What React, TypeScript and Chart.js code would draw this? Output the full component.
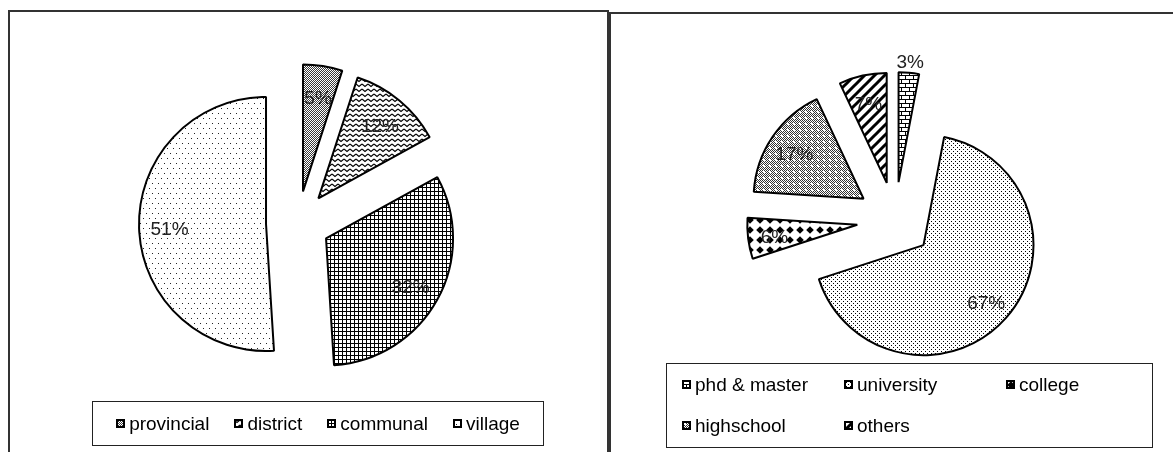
import React, { useEffect, useRef } from 'react';
import { Chart, registerables } from 'chart.js';

Chart.register(...registerables);

const FONT = '"Liberation Sans", Arial, Helvetica, sans-serif';

// Respondents by administrative level (%)
const levelLabels = ['provincial', 'district', 'communal', 'village'];
const levelShares = [5, 12, 32, 51];
const levelFills = ['stipple', 'wave', 'grid', 'sparseDots'];

// Respondents by education (%)
const eduLabels = ['phd & master', 'university', 'college', 'highschool', 'others'];
const eduShares = [3, 67, 6, 17, 7];
const eduFills = ['brick', 'fineDots', 'diamond', 'dottedDark', 'stripes'];

// Small black-and-white tiles used as hatch fills
function makeTile(kind: string): HTMLCanvasElement {
  const c = document.createElement('canvas');
  let w = 8;
  let h = 8;
  switch (kind) {
    case 'stipple': w = 2; h = 2; break;
    case 'wave': w = 6; h = 5; break;
    case 'grid': w = 4; h = 4; break;
    case 'sparseDots': w = 6; h = 10; break;
    case 'brick': w = 8; h = 8; break;
    case 'fineDots': w = 4; h = 4; break;
    case 'diamond': w = 10; h = 10; break;
    case 'dottedDark': w = 6; h = 6; break;
    case 'stripes': w = 10; h = 10; break;
  }
  c.width = w;
  c.height = h;
  const g = c.getContext('2d') as CanvasRenderingContext2D;
  g.fillStyle = '#fff';
  g.fillRect(0, 0, w, h);
  g.fillStyle = '#000';
  g.strokeStyle = '#000';
  const dot = (x: number, y: number) => g.fillRect(x, y, 1, 1);
  switch (kind) {
    case 'stipple':
      g.fillStyle = '#3a3a3a';
      dot(0, 0);
      dot(1, 1);
      break;
    case 'wave':
      g.lineWidth = 1.1;
      g.beginPath();
      g.moveTo(0, 1);
      g.lineTo(3, 3.5);
      g.lineTo(6, 1);
      g.stroke();
      break;
    case 'grid':
      g.fillRect(0, 0, w, 1);
      g.fillRect(0, 0, 1, h);
      break;
    case 'sparseDots':
      g.fillStyle = '#222';
      dot(0, 0);
      dot(3, 5);
      break;
    case 'brick':
      g.fillRect(0, 0, 8, 1);
      g.fillRect(0, 4, 8, 1);
      g.fillRect(0, 0, 1, 4);
      g.fillRect(4, 4, 1, 4);
      break;
    case 'fineDots':
      dot(0, 0);
      dot(2, 2);
      break;
    case 'diamond':
      g.beginPath();
      g.moveTo(5, 1.2);
      g.lineTo(8.8, 5);
      g.lineTo(5, 8.8);
      g.lineTo(1.2, 5);
      g.closePath();
      g.fill();
      break;
    case 'dottedDark':
      // grey checker with a lattice of small white dots
      g.fillStyle = '#333';
      for (let y = 0; y < h; y++) for (let x = 0; x < w; x++) if ((x + y) % 2 === 0) dot(x, y);
      g.fillStyle = '#fff';
      g.fillRect(2, 2, 2, 2);
      break;
    case 'stripes':
      g.lineWidth = 3;
      g.beginPath();
      for (const s of [0, 10, 20]) {
        g.moveTo(s + 2, -2);
        g.lineTo(-2, s + 2);
      }
      g.stroke();
      break;
  }
  return c;
}

// Pulls every slice away from the centre along its bisector
const explodePlugin = {
  id: 'explode',
  afterDatasetUpdate(chart: any, args: any, opts: any) {
    const d = opts.distance || 0;
    for (const arc of chart.getDatasetMeta(args.index).data as any[]) {
      const mid = (arc.startAngle + arc.endAngle) / 2;
      arc.x += Math.cos(mid) * d;
      arc.y += Math.sin(mid) * d;
    }
  },
};

// Percentage text on (or just outside) each slice
const sliceLabelPlugin = {
  id: 'sliceLabels',
  afterDatasetsDraw(chart: any, _args: any, opts: any) {
    const ctx = chart.ctx as CanvasRenderingContext2D;
    const values = chart.data.datasets[0].data as number[];
    ctx.save();
    ctx.font = `${opts.size}px ${FONT}`;
    ctx.fillStyle = opts.color;
    ctx.textAlign = 'center';
    ctx.textBaseline = 'middle';
    chart.getDatasetMeta(0).data.forEach((arc: any, i: number) => {
      const mid = (arc.startAngle + arc.endAngle) / 2;
      const f = values[i] < opts.outsideBelow ? opts.outside : opts.inside;
      const r = arc.outerRadius * f;
      ctx.fillText(`${values[i]}%`, arc.x + Math.cos(mid) * r, arc.y + Math.sin(mid) * r + 3);
    });
    ctx.restore();
  },
};

type PieProps = {
  labels: string[];
  values: number[];
  fills: string[];
  radius: number;
  explode: number;
  width: number;
  height: number;
  left: number;
  top: number;
};

function ExplodedPie({ labels, values, fills, radius, explode, width, height, left, top }: PieProps) {
  const ref = useRef<HTMLCanvasElement>(null);
  useEffect(() => {
    const canvas = ref.current as HTMLCanvasElement;
    const ctx = canvas.getContext('2d') as CanvasRenderingContext2D;
    const patterns = fills.map((k) => ctx.createPattern(makeTile(k), 'repeat'));
    const chart = new Chart(canvas, {
      type: 'pie',
      data: {
        labels,
        datasets: [
          {
            data: values,
            backgroundColor: patterns as any,
            borderColor: '#000',
            borderWidth: 2,
            hoverOffset: 0,
          },
        ],
      },
      options: {
        responsive: false,
        animation: false,
        events: [],
        radius,
        layout: { padding: 0 },
        plugins: {
          legend: { display: false },
          tooltip: { enabled: false },
          explode: { distance: explode },
          sliceLabels: { size: 19, color: '#222', inside: 0.76, outside: 1.12, outsideBelow: 4 },
        } as any,
      },
      plugins: [explodePlugin, sliceLabelPlugin],
    });
    return () => chart.destroy();
  }, []);
  return <canvas ref={ref} width={width} height={height} style={{ position: 'absolute', left, top }} />;
}

function Swatch({ kind }: { kind: string }) {
  const ref = useRef<HTMLCanvasElement>(null);
  useEffect(() => {
    const c = ref.current as HTMLCanvasElement;
    const g = c.getContext('2d') as CanvasRenderingContext2D;
    g.clearRect(0, 0, 9, 9);
    g.fillStyle = g.createPattern(makeTile(kind), 'repeat') as CanvasPattern;
    g.fillRect(0, 0, 9, 9);
    g.strokeStyle = '#000';
    g.lineWidth = 2;
    g.strokeRect(1, 1, 7, 7);
  }, [kind]);
  return <canvas ref={ref} width={9} height={9} style={{ display: 'block', flex: 'none' }} />;
}

function LegendItem({ label, kind }: { label: string; kind: string }) {
  return (
    <div style={{ display: 'flex', alignItems: 'center', whiteSpace: 'nowrap' }}>
      <Swatch kind={kind} />
      <span style={{ marginLeft: 4 }}>{label}</span>
    </div>
  );
}

const textStyle: React.CSSProperties = {
  fontFamily: FONT,
  fontSize: 19,
  lineHeight: '19px',
  color: '#000',
};

export default function App() {
  return (
    <div
      style={{
        position: 'fixed',
        left: 0,
        top: 0,
        width: 1173,
        height: 452,
        overflow: 'hidden',
        background: '#fff',
      }}
    >
      {/* frames */}
      <div
        style={{
          position: 'absolute',
          left: 8,
          top: 10,
          width: 601,
          height: 500,
          border: '2px solid #333',
          boxSizing: 'border-box',
        }}
      />
      <div
        style={{
          position: 'absolute',
          left: 609,
          top: 12,
          width: 620,
          height: 500,
          border: '2px solid #333',
          boxSizing: 'border-box',
        }}
      />

      <ExplodedPie
        labels={levelLabels}
        values={levelShares}
        fills={levelFills}
        radius={127}
        explode={32}
        width={400}
        height={360}
        left={98}
        top={43}
      />
      <ExplodedPie
        labels={eduLabels}
        values={eduShares}
        fills={eduFills}
        radius={110}
        explode={38}
        width={340}
        height={330}
        left={725}
        top={55}
      />

      {/* legend: administrative level */}
      <div
        style={{
          ...textStyle,
          position: 'absolute',
          left: 92,
          top: 401,
          width: 452,
          height: 45,
          border: '1px solid #222',
          boxSizing: 'border-box',
          display: 'flex',
          alignItems: 'center',
          justifyContent: 'center',
          gap: 25,
        }}
      >
        {levelLabels.map((l, i) => (
          <LegendItem key={l} label={l} kind={levelFills[i]} />
        ))}
      </div>

      {/* legend: education */}
      <div
        style={{
          ...textStyle,
          position: 'absolute',
          left: 666,
          top: 363,
          width: 487,
          height: 85,
          border: '1px solid #222',
          boxSizing: 'border-box',
        }}
      >
        {eduLabels.map((l, i) => (
          <div
            key={l}
            style={{
              position: 'absolute',
              left: 15 + (i % 3) * 162,
              top: Math.floor(i / 3) * 41,
              height: 41,
              display: 'flex',
              alignItems: 'center',
            }}
          >
            <LegendItem label={l} kind={eduFills[i]} />
          </div>
        ))}
      </div>
    </div>
  );
}
